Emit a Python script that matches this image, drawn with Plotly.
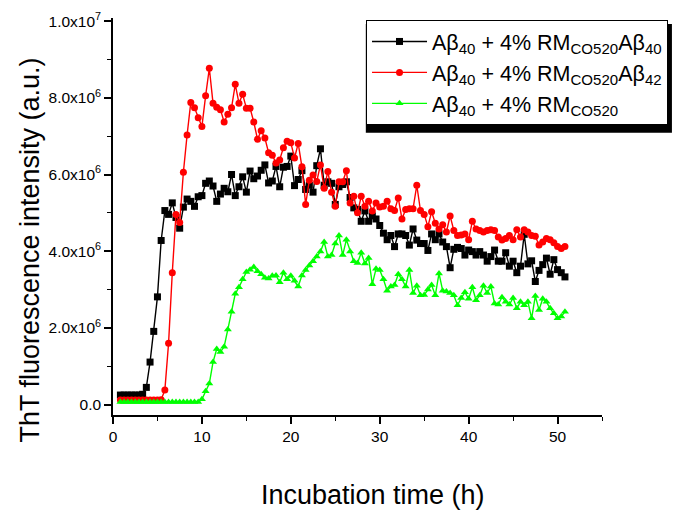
import plotly.graph_objects as go

# sampling grid: one reading every 25 min
time_h = [round(50 / 60 + i * 25 / 60, 3) for i in range(121)]

# ThT fluorescence, in units of 1e6 a.u.
ab40_rm_ab40 = [
    0.25, 0.25, 0.25, 0.25, 0.25, 0.25, 0.27,
    0.45, 1.11, 1.91, 2.81, 4.28, 5.06, 4.96, 5.26, 4.88, 4.60,
    5.15, 5.36, 5.30, 5.17, 5.42, 5.45, 5.77, 5.83, 5.70, 5.30,
    5.49, 5.64, 5.55, 6.00, 5.45, 5.68, 5.94, 5.54, 6.09, 5.89,
    5.96, 6.11, 6.25, 5.78, 5.83, 6.21, 5.68, 6.19, 6.21, 6.48,
    5.71, 5.87, 6.10, 5.61, 5.72, 5.54, 6.23, 6.67, 5.72, 5.81,
    5.77, 5.22, 5.68, 5.74, 5.81, 5.40, 5.13, 5.09, 4.78, 5.05,
    4.78, 4.92, 4.84, 4.67, 4.47, 4.30, 4.41, 4.12, 4.45, 4.45,
    4.41, 4.16, 4.58, 4.29, 4.20, 4.20, 4.02, 4.45, 4.30, 4.45,
    4.24, 4.12, 3.57, 4.05, 4.10, 4.07, 3.90, 4.03, 3.99, 3.90,
    3.99, 3.90, 3.74, 3.86, 4.03, 3.74, 3.74, 3.96, 3.61, 3.74,
    3.44, 3.61, 4.44, 3.67, 3.75, 3.21, 3.50, 3.65, 3.82, 3.40,
    3.78, 3.52, 3.44, 3.33,
]

ab40_rm_ab42 = [
    0.12, 0.12, 0.12, 0.12, 0.12, 0.12, 0.12, 0.12, 0.12, 0.12, 0.12, 0.13,
    0.38, 1.60, 3.44, 4.96, 4.75, 6.06, 7.03, 7.88, 7.74, 7.48,
    7.25, 8.05, 8.77, 7.86, 7.75, 7.69, 7.37, 7.57, 7.74, 8.35,
    7.86, 8.09, 7.73, 7.73, 7.37, 6.92, 7.14, 6.95, 6.57, 6.50,
    6.30, 6.38, 6.70, 6.87, 6.83, 6.43, 6.81, 6.20, 5.22, 5.85,
    5.99, 5.82, 6.25, 5.64, 6.08, 5.54, 5.17, 5.81, 5.81, 6.10,
    5.26, 5.43, 5.00, 5.43, 5.17, 5.30, 5.05, 5.26, 5.15, 5.17,
    5.30, 5.11, 5.06, 5.39, 4.84, 5.09, 5.11, 5.11, 5.72, 5.06,
    4.96, 4.64, 5.03, 4.73, 4.58, 4.69, 4.50, 4.92, 4.54, 4.41,
    4.42, 4.45, 4.30, 4.78, 4.58, 4.54, 4.50, 4.54, 4.56, 4.54,
    4.37, 4.29, 4.33, 4.41, 4.30, 4.56, 4.37, 4.56, 4.50, 4.41,
    4.39, 4.16, 4.24, 4.33, 4.30, 4.22, 4.12, 4.07, 4.12,
]

ab40_rm = [
    0.07, 0.07, 0.07, 0.07, 0.07, 0.07, 0.07, 0.07, 0.07, 0.07, 0.07,
    0.07, 0.07, 0.07, 0.07, 0.07, 0.07, 0.07, 0.07, 0.07, 0.07, 0.07,
    0.14, 0.35, 0.55, 1.11, 1.45, 1.37, 1.51, 1.96, 2.42, 2.89,
    3.06, 3.27, 3.46, 3.52, 3.59, 3.48, 3.40, 3.31, 3.29, 3.36,
    3.37, 3.19, 3.44, 3.27, 3.36, 3.23, 3.08, 3.37, 3.51, 3.63,
    3.74, 3.86, 3.99, 4.24, 3.86, 3.90, 4.20, 4.41, 3.90, 4.30,
    3.99, 3.74, 3.69, 3.96, 3.68, 3.82, 3.14, 3.54, 3.51, 3.27,
    2.97, 3.08, 3.12, 3.40, 3.27, 3.08, 3.51, 2.91, 3.10, 2.85,
    2.86, 3.00, 3.12, 2.85, 3.42, 2.97, 2.95, 2.91, 2.85, 2.59,
    2.78, 2.93, 2.76, 3.06, 2.72, 2.85, 3.10, 2.91, 3.08, 2.64,
    2.61, 2.80, 2.68, 2.61, 2.78, 2.51, 2.68, 2.59, 2.68, 2.25,
    2.83, 2.47, 2.76, 2.68, 2.51, 2.38, 2.25, 2.30, 2.42,
]

series_names = [
    "Aβ<sub>40</sub> + 4% RM<sub>CO520</sub>Aβ<sub>40</sub>",
    "Aβ<sub>40</sub> + 4% RM<sub>CO520</sub>Aβ<sub>42</sub>",
    "Aβ<sub>40</sub> + 4% RM<sub>CO520</sub>",
]

y_tick_vals = [0, 2, 4, 6, 8, 10]
y_tick_text = ["0.0", "2.0x10<sup>6</sup>", "4.0x10<sup>6</sup>", "6.0x10<sup>6</sup>",
               "8.0x10<sup>6</sup>", "1.0x10<sup>7</sup>"]
x_tick_vals = [0, 10, 20, 30, 40, 50]

x_title = "Incubation time (h)"
y_title = "ThT fluorescence intensity (a.u.)"

FONT = "Liberation Sans, Arial, sans-serif"

fig = go.Figure()
styles = [
    dict(color="#000000", symbol="square", size=7),
    dict(color="#ff0000", symbol="circle", size=7),
    dict(color="#00ff00", symbol="triangle-up", size=7),
]
for name, vals, st in zip(series_names, [ab40_rm_ab40, ab40_rm_ab42, ab40_rm], styles):
    fig.add_trace(go.Scatter(
        x=time_h, y=vals, name=name, mode="lines+markers",
        line=dict(color=st["color"], width=1.4),
        marker=dict(color=st["color"], symbol=st["symbol"], size=st["size"], line=dict(width=0)),
    ))

axis_common = dict(
    showline=True, linecolor="black", linewidth=1.6, mirror=False,
    showgrid=False, zeroline=False,
    ticks="outside", ticklen=7, tickwidth=1.6, tickcolor="black",
    tickfont=dict(family=FONT, size=15.5, color="black"),
    ticklabeloverflow="allow",
)

fig.update_xaxes(
    range=[0, 55], tickvals=x_tick_vals,
    minor=dict(ticks="outside", ticklen=4, tickwidth=1.4, tickcolor="black", dtick=5, tick0=0, showgrid=False),
    **axis_common,
)
fig.update_yaxes(
    range=[-0.27, 10.08], tickvals=y_tick_vals, ticktext=y_tick_text,
    minor=dict(ticks="outside", ticklen=4, tickwidth=1.4, tickcolor="black", dtick=1, tick0=0, showgrid=False),
    **axis_common,
)

# axis titles
fig.add_annotation(text=x_title, xref="paper", yref="paper", x=0.532, y=-0.201,
                   showarrow=False, xanchor="center", yanchor="middle",
                   font=dict(family=FONT, size=27, color="black"))
fig.add_annotation(text=y_title, xref="paper", yref="paper", x=-0.169, y=0.415,
                   showarrow=False, xanchor="center", yanchor="middle", textangle=-90,
                   font=dict(family=FONT, size=27, color="black"))

# legend drop shadow
fig.add_shape(type="rect", xref="paper", yref="paper",
              x0=0.517, x1=1.143, y0=0.711, y1=0.985,
              fillcolor="black", line=dict(width=0), layer="above")

fig.update_layout(
    width=678, height=523,
    margin=dict(l=113, r=76, t=10, b=108),
    paper_bgcolor="white", plot_bgcolor="white",
    showlegend=True,
    legend=dict(
        x=1.135, y=0.995, xanchor="right", yanchor="top",
        bgcolor="white", bordercolor="black", borderwidth=1,
        font=dict(family=FONT, size=21.5, color="black"),
        itemwidth=55, tracegroupgap=0,
    ),
)

fig.write_html("out.html", config={"displayModeBar": False},
               post_script="document.body.style.margin='0';document.body.style.padding='0';")
